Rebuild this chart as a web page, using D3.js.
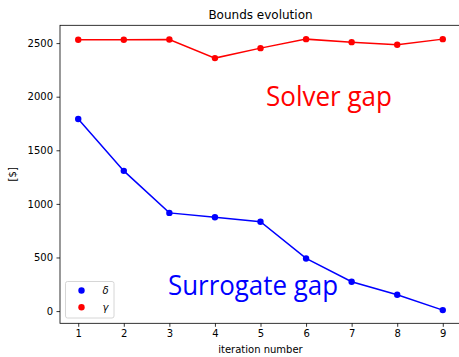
<!DOCTYPE html>
<html>
<head>
<meta charset="utf-8">
<script src="https://cdn.jsdelivr.net/npm/d3@7"></script>
<style>
  body { margin: 0; background: #fff; }
  svg text { font-family: "DejaVu Sans", sans-serif; }
</style>
</head>
<body>
<div id="chart"></div>
<script>
// iteration numbers on the x axis
const iterations = [1, 2, 3, 4, 5, 6, 7, 8, 9];
// delta: surrogate gap, gamma: solver gap
const deltaValues = [1792, 1308, 916, 876, 833, 491, 274, 153, 9];
const gammaValues = [2531, 2531, 2534, 2360, 2453, 2537, 2509, 2484, 2537];
const yTicks = [0, 500, 1000, 1500, 2000, 2500];

const width = 459, height = 357;
const margin = { top: 25.3, right: -2, bottom: 33.7, left: 60 };

const svg = d3.select('#chart').append('svg')
  .attr('width', width)
  .attr('height', height);

const x = d3.scaleLinear()
  .domain([0.6, 9.4])
  .range([margin.left, width - margin.right]);

const y = d3.scaleLinear()
  .domain([-114, 2666])
  .range([height - margin.bottom, margin.top]);

// axes
const xAxis = svg.append('g')
  .attr('transform', `translate(0,${height - margin.bottom})`)
  .call(d3.axisBottom(x).tickValues(iterations).tickSize(3.5).tickPadding(3.5).tickFormat(d3.format('d')));

const yAxis = svg.append('g')
  .attr('transform', `translate(${margin.left},0)`)
  .call(d3.axisLeft(y).tickValues(yTicks).tickSize(3.5).tickPadding(3.5).tickFormat(d3.format('d')));

[xAxis, yAxis].forEach(a => {
  a.select('.domain').remove();
  a.selectAll('line').attr('stroke', '#000').attr('stroke-width', 0.8);
  a.selectAll('text').style('font-size', '10px').attr('fill', '#000');
});

// spines
const x0 = margin.left, x1 = width - margin.right;
const y0 = margin.top, y1 = height - margin.bottom;
svg.append('rect')
  .attr('x', x0).attr('y', y0)
  .attr('width', x1 - x0).attr('height', y1 - y0)
  .attr('fill', 'none')
  .attr('stroke', '#000')
  .attr('stroke-width', 0.8);

// series
const series = [
  { name: 'δ', values: deltaValues, color: '#0000ff' },
  { name: 'γ', values: gammaValues, color: '#ff0000' }
];

const line = d3.line()
  .x((d, i) => x(iterations[i]))
  .y(d => y(d));

series.forEach(s => {
  svg.append('path')
    .datum(s.values)
    .attr('d', line)
    .attr('fill', 'none')
    .attr('stroke', s.color)
    .attr('stroke-width', 1.5);

  svg.append('g')
    .selectAll('circle')
    .data(s.values)
    .join('circle')
    .attr('cx', (d, i) => x(iterations[i]))
    .attr('cy', d => y(d))
    .attr('r', 3.2)
    .attr('fill', s.color);
});

// big annotations
svg.append('text')
  .attr('x', 266)
  .attr('y', 106)
  .attr('textLength', 126)
  .attr('lengthAdjust', 'spacingAndGlyphs')
  .style('font-family', '"Open Sans", sans-serif')
  .style('font-size', '28px')
  .attr('fill', '#ff0000')
  .text('Solver gap');

svg.append('text')
  .attr('x', 168)
  .attr('y', 295)
  .attr('textLength', 170)
  .attr('lengthAdjust', 'spacingAndGlyphs')
  .style('font-family', '"Open Sans", sans-serif')
  .style('font-size', '28px')
  .attr('fill', '#0000ff')
  .text('Surrogate gap');

// title and labels
svg.append('text')
  .attr('x', (x0 + x1) / 2)
  .attr('y', 19)
  .attr('text-anchor', 'middle')
  .style('font-size', '12px')
  .text('Bounds evolution');

svg.append('text')
  .attr('x', (x0 + x1) / 2)
  .attr('y', 353)
  .attr('text-anchor', 'middle')
  .style('font-size', '10px')
  .text('iteration number');

svg.append('text')
  .attr('transform', `translate(16,${(y0 + y1) / 2}) rotate(-90)`)
  .attr('text-anchor', 'middle')
  .style('font-size', '10px')
  .text('[$]');

// legend
const legend = svg.append('g').attr('transform', 'translate(65.5,281.5)');
legend.append('rect')
  .attr('width', 48.5)
  .attr('height', 36.5)
  .attr('rx', 2)
  .attr('fill', '#fff')
  .attr('fill-opacity', 0.8)
  .attr('stroke', '#cccccc')
  .attr('stroke-width', 0.8);

series.forEach((s, i) => {
  const g = legend.append('g').attr('transform', `translate(0,${9 + i * 16.7})`);
  g.append('circle')
    .attr('cx', 16)
    .attr('cy', 0)
    .attr('r', 3.2)
    .attr('fill', s.color);
  g.append('text')
    .attr('x', 40)
    .attr('y', 3.5)
    .attr('text-anchor', 'middle')
    .style('font-size', '10px')
    .style('font-style', 'italic')
    .text(s.name);
});
</script>
</body>
</html>
